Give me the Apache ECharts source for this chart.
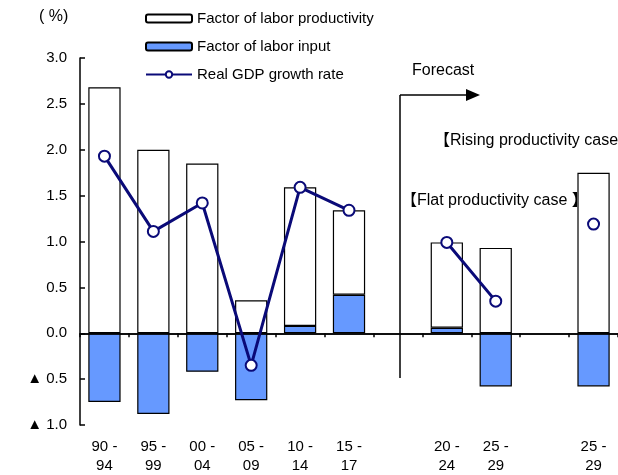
<!DOCTYPE html>
<html>
<head>
<meta charset="utf-8">
<script src="https://cdn.jsdelivr.net/npm/echarts@6/dist/echarts.min.js"></script>
<style>
  html, body { margin: 0; padding: 0; background: #fff; }
  #main { width: 618px; height: 475px; }
</style>
</head>
<body>
<div id="main"></div>
<script>
// 期間（空欄は区切り用）
const periods = ['90 -\n94', '95 -\n99', '00 -\n04', '05 -\n09', '10 -\n14', '15 -\n17', '', '20 -\n24', '25 -\n29', '', '25 -\n29']

// 労働生産性要因
const productivity = [2.68, 2.0, 1.85, 0.36, 1.51, 0.92, null, 0.93, 0.93, null, 1.75]
// 労働投入要因
const laborInput = [-0.75, -0.88, -0.42, -0.73, 0.08, 0.42, null, 0.06, -0.58, null, -0.58]
// 実質GDP成長率
const gdpGrowth = [1.93, 1.11, 1.42, -0.35, 1.59, 1.34, null, 0.99, 0.35, null, 1.19]

const yTicks = [-1, -0.5, 0, 0.5, 1, 1.5, 2, 2.5, 3]

const font = '"Liberation Sans", Arial, "Noto Sans CJK JP", sans-serif'

const myChart = echarts.init(document.getElementById('main'))

const option = {
    animation: false,
    textStyle: { fontFamily: font, color: '#000' },
    grid: { left: 80, top: 58, width: 541, height: 368 },
    legend: {
        orient: 'vertical',
        left: 140,
        top: 6,
        itemWidth: 46,
        itemHeight: 8,
        itemGap: 13,
        textStyle: { fontFamily: font, fontSize: 15, color: '#000' },
        data: ['Factor of labor productivity', 'Factor of labor input', 'Real GDP growth rate'],
    },
    xAxis: {
        type: 'category',
        data: periods,
        axisLine: { lineStyle: { color: '#000', width: 1.5 } },
        axisTick: { show: true, interval: 0, length: 4, lineStyle: { color: '#000', width: 1.5 } },
        axisLabel: { interval: 0, fontSize: 15, color: '#000', lineHeight: 19, margin: 12, fontFamily: font },
    },
    yAxis: {
        type: 'value',
        min: yTicks[0],
        max: yTicks[yTicks.length - 1],
        interval: 0.5,
        splitLine: { show: false },
        axisLine: { show: true, lineStyle: { color: '#000', width: 1.5 } },
        axisTick: { show: true, inside: true, length: 5, lineStyle: { color: '#000', width: 1.5 } },
        axisLabel: {
            fontSize: 15,
            color: '#000',
            margin: 13,
            padding: [4, 0, 0, 0],
            fontFamily: font,
            formatter: (v) => (v < 0 ? '▲ ' + Math.abs(v).toFixed(1) : v.toFixed(1)),
        },
    },
    series: [
        {
            name: 'Factor of labor input',
            type: 'bar',
            stack: 'total',
            barWidth: '66%',
            data: laborInput,
            itemStyle: { color: '#6699ff', borderColor: '#000', borderWidth: 1.2 },
            markLine: {
                silent: true,
                symbol: 'none',
                label: { show: false },
                lineStyle: { color: '#000', type: 'solid', width: 1.5 },
                data: [{ yAxis: 0 }],
            },
        },
        {
            name: 'Factor of labor productivity',
            type: 'bar',
            stack: 'total',
            barWidth: '66%',
            data: productivity,
            itemStyle: { color: '#fff', borderColor: '#000', borderWidth: 1.2 },
        },
        {
            name: 'Real GDP growth rate',
            type: 'line',
            data: gdpGrowth,
            symbol: 'circle',
            symbolSize: 11,
            z: 5,
            lineStyle: { color: '#0a0a78', width: 3 },
            itemStyle: { color: '#fff', borderColor: '#0a0a78', borderWidth: 2 },
        },
    ],
    graphic: [
        { type: 'text', left: 39, top: 9, style: { text: '( %)', fontSize: 16, fontFamily: font, fill: '#000' } },
        { type: 'line', shape: { x1: 400, y1: 95, x2: 400, y2: 378 }, style: { stroke: '#000', lineWidth: 1.5 } },
        { type: 'line', shape: { x1: 400, y1: 95, x2: 468, y2: 95 }, style: { stroke: '#000', lineWidth: 1.5 } },
        { type: 'polygon', shape: { points: [[466, 89], [480, 95], [466, 101]] }, style: { fill: '#000' } },
        { type: 'text', left: 412, top: 63, style: { text: 'Forecast', fontSize: 16, fontFamily: font, fill: '#000' } },
        { type: 'text', left: 434, top: 133, style: { text: '【Rising productivity case】', fontSize: 16, fontFamily: font, fill: '#000' } },
        { type: 'text', left: 401, top: 193, style: { text: '【Flat productivity case 】', fontSize: 16, fontFamily: font, fill: '#000' } },
    ],
}

myChart.setOption(option)
</script>
</body>
</html>
